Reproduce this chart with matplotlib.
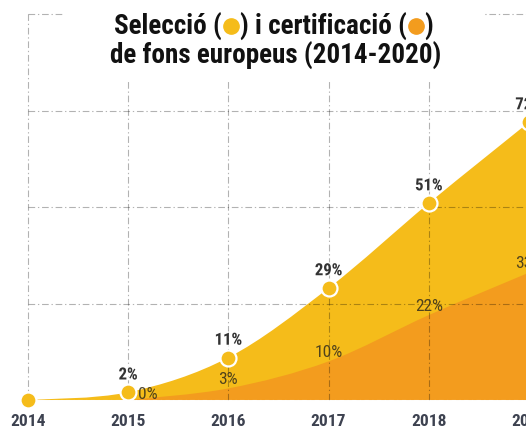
import matplotlib
matplotlib.use("Agg")
import matplotlib.pyplot as plt
import matplotlib.patheffects as pe
from matplotlib.lines import Line2D
from matplotlib.patches import PathPatch, Rectangle
from matplotlib.path import Path
import numpy as np

# dades (percentatge sobre el total)
YEARS = [2014, 2015, 2016, 2017, 2018, 2019]
SELECCIO = [0, 2, 11, 29, 51, 72]
CERT_YEARS = [2015, 2016, 2017, 2018, 2019]
CERTIFICACIO = [0, 3, 10, 22, 33]
GRID_VALUES = [25, 50, 75, 100]

YELLOW = "#F5BC1A"
ORANGE = "#F39C1E"
FONT = ["Roboto Condensed", "DejaVu Sans"]

plt.rcParams["font.family"] = FONT
plt.rcParams["font.stretch"] = "condensed"


def smooth_area(xs, ys):
    """Area sota una corba suau (Catmull-Rom -> Bezier) que passa pels punts."""
    pts = np.column_stack([xs, ys]).astype(float)
    n = len(pts)
    verts = [pts[0]]
    codes = [Path.MOVETO]
    for i in range(n - 1):
        p0, p1 = pts[max(i - 1, 0)], pts[i]
        p2, p3 = pts[i + 1], pts[min(i + 2, n - 1)]
        verts += [p1 + (p2 - p0) / 6, p2 - (p3 - p1) / 6, p2]
        codes += [Path.CURVE4] * 3
    verts += [(xs[-1], 0), (xs[0], 0), (xs[0], ys[0])]
    codes += [Path.LINETO, Path.LINETO, Path.CLOSEPOLY]
    return Path(verts, codes)


W, H = 526, 431
fig = plt.figure(figsize=(W / 100, H / 100), dpi=100)
ax = fig.add_axes([0, 0, 1, 1])
ax.set_xlim(2013.722, 2018.97)
ax.set_ylim(-7.77, 103.9)
ax.axis("off")

ax.add_patch(PathPatch(smooth_area(YEARS, SELECCIO), facecolor=YELLOW, edgecolor="none", zorder=1))
ax.add_patch(PathPatch(smooth_area(CERT_YEARS, CERTIFICACIO), facecolor=ORANGE, edgecolor="none", zorder=2))

grid_style = dict(color="black", alpha=0.3, linewidth=0.8, linestyle=(0, (6, 2.5, 1.2, 2.5)), zorder=3)
ax.vlines(YEARS, 0, 100, **grid_style)
ax.hlines(GRID_VALUES, YEARS[0], YEARS[-1] + 1, **grid_style)
ax.hlines(0, YEARS[0], YEARS[-1] + 1, color="white", alpha=0.7, linewidth=0.8,
          linestyle=(0, (4, 3, 1.2, 3)), zorder=3)

ax.plot(YEARS, SELECCIO, "o", ms=11.5, mfc=YELLOW, mec="white", mew=1.6, zorder=4,
        clip_on=False)

halo = [pe.withStroke(linewidth=2.2, foreground="white", alpha=0.8)]
for x, v in zip(YEARS, SELECCIO):
    if x == YEARS[0]:
        continue
    ax.annotate(f"{v}%", (x, v), xytext=(0, 12.5), textcoords="offset points",
                ha="center", va="center", fontsize=12, fontweight="bold",
                color="#333333", path_effects=halo, zorder=5, annotation_clip=False)

for x, v in zip(CERT_YEARS, CERTIFICACIO):
    offset = (14, 5) if v == 0 else (0, 7)
    ax.annotate(f"{v}%", (x, v), xytext=offset, textcoords="offset points",
                ha="center", va="center", fontsize=12.5, color="#3f361c",
                alpha=0.9, zorder=5, annotation_clip=False)

for x in YEARS:
    ax.text(x, -5.2, str(x), ha="center", va="center", fontsize=12.5,
            fontweight="bold", color="#3d4250")

# capsa blanca del títol
ax.add_patch(Rectangle((2014.367, 82.6), 4.19, 30, facecolor="white", edgecolor="none", zorder=6))

# títol: la primera línia porta dos cercles de llegenda
title_parts = ["Selecció (", None, ") i certificació (", None, ")"]
legend_colors = [YELLOW, ORANGE]
dot_w = 17
y1 = 1 - 35 / H
texts = []
for s in title_parts:
    if s is None:
        texts.append(None)
        continue
    texts.append(fig.text(0, y1, s, color="#111111", fontsize=19.5, fontweight="bold",
                          ha="left", va="baseline", zorder=7))
renderer = fig.canvas.get_renderer()
widths = [dot_w if t is None else t.get_window_extent(renderer).width + 1 for t in texts]
x0 = 274 - sum(widths) / 2
colors = iter(legend_colors)
for t, w in zip(texts, widths):
    if t is None:
        fig.add_artist(Line2D([(x0 + w / 2) / W], [1 - 27 / H], transform=fig.transFigure,
                              marker="o", ms=11, color=next(colors), zorder=7))
    else:
        t.set_x(x0 / W)
    x0 += w
fig.text(276 / W, 1 - 64 / H, "de fons europeus (2014-2020)", color="#111111",
         fontsize=19.5, fontweight="bold", ha="center", va="baseline", zorder=7)

fig.savefig("out.png", dpi=100)
